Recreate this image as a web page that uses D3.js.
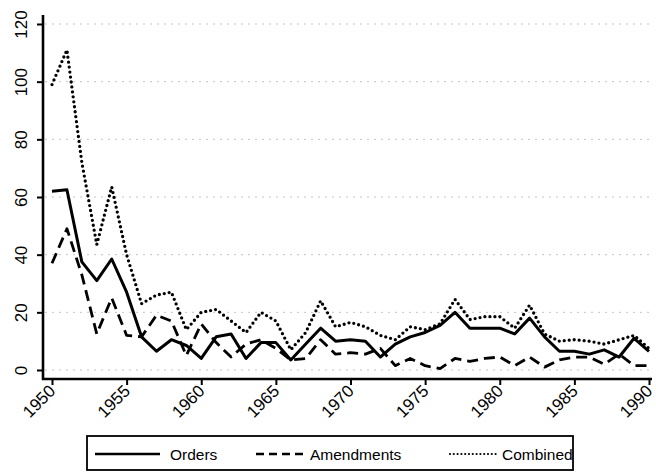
<!DOCTYPE html>
<html>
<head>
<meta charset="utf-8">
<script src="https://cdn.jsdelivr.net/npm/d3@7"></script>
<style>
  body { margin: 0; background: #fff; }
  svg { display: block; }
</style>
</head>
<body>
<div id="chart"></div>
<script>
const years = [1950, 1951, 1952, 1953, 1954, 1955, 1956, 1957, 1958, 1959,
  1960, 1961, 1962, 1963, 1964, 1965, 1966, 1967, 1968, 1969,
  1970, 1971, 1972, 1973, 1974, 1975, 1976, 1977, 1978, 1979,
  1980, 1981, 1982, 1983, 1984, 1985, 1986, 1987, 1988, 1989, 1990];

const orders = [62, 62.5, 37.5, 31, 38.5, 27, 11.5, 6.5, 10.5, 8.5,
  4, 11.5, 12.5, 4, 9.5, 9.5, 3.5, 9, 14.5, 10,
  10.5, 10, 4.5, 9, 11.5, 13, 15.5, 20, 14.5, 14.5,
  14.5, 12.5, 18, 11.5, 6.5, 6.5, 5.5, 7, 4.5, 11, 6.5];

const amendments = [37, 49, 33, 12.5, 25, 12, 11.5, 19, 17, 5,
  16, 9.5, 4.5, 9, 10.5, 7.5, 3.5, 4, 10.5, 5.5,
  6, 5.5, 7.5, 1.5, 4, 1.5, 0.5, 4, 3, 4,
  4.5, 1.5, 4.5, 1, 3.5, 4.5, 4.5, 2, 5.5, 1.5, 1.5];

const combined = [99, 111, 72, 43.5, 63.5, 40, 23, 26, 27, 14,
  20, 21, 17, 13, 20, 17, 7, 13, 24, 15,
  16.5, 15, 12, 10.5, 15, 14, 16, 24.5, 17.5, 18.5,
  18.5, 14.5, 22.5, 12.5, 10, 10.5, 10, 9, 10.5, 12, 7.5];

const seriesNames = ["Orders", "Amendments", "Combined"];
const yTicks = [0, 20, 40, 60, 80, 100, 120];
const xTicks = [1950, 1955, 1960, 1965, 1970, 1975, 1980, 1985, 1990];

const width = 656;
const height = 473;
const font = "'Liberation Sans', Arial, sans-serif";

// stroke patterns per series
const styles = [
  { dash: null, cap: "butt", w: 3 },
  { dash: "11,6", cap: "butt", w: 2.8 },
  { dash: "0,5", cap: "round", w: 3.3 },
];

const svg = d3.select("#chart").append("svg")
  .attr("width", width)
  .attr("height", height)
  .attr("viewBox", `0 0 ${width} ${height}`);

const x = d3.scaleLinear().domain([1950, 1990]).range([52, 649]);
const y = d3.scaleLinear().domain([0, 120]).range([370, 24]);

const axisX = 43;
const axisY = 379;
const plotRight = 652;

/** grid **/
svg.append("g")
  .selectAll("line")
  .data(yTicks)
  .join("line")
  .attr("x1", axisX + 2)
  .attr("x2", plotRight)
  .attr("y1", (d) => y(d))
  .attr("y2", (d) => y(d))
  .attr("stroke", "#c4c4c4")
  .attr("stroke-width", 1)
  .attr("stroke-dasharray", "2,5");

/** Y - axis **/
svg.append("g")
  .attr("transform", `translate(${axisX}, 0)`)
  .call(d3.axisLeft(y).tickValues(yTicks).tickSize(6).tickFormat(d3.format("d")))
  .call((g) => {
    g.select(".domain").remove();
    g.selectAll(".tick line").attr("stroke", "#000").attr("stroke-width", 2);
    g.selectAll(".tick text")
      .attr("x", null)
      .attr("dy", null)
      .attr("transform", "translate(-16, 0) rotate(-90)")
      .attr("text-anchor", "middle")
      .attr("fill", "#000")
      .attr("font-family", font)
      .attr("font-size", 17);
  });

svg.append("line")
  .attr("x1", axisX).attr("x2", axisX)
  .attr("y1", 15).attr("y2", axisY + 1)
  .attr("stroke", "#000")
  .attr("stroke-width", 2.6);

/** X - axis **/
svg.append("g")
  .attr("transform", `translate(0, ${axisY})`)
  .call(d3.axisBottom(x).tickValues(xTicks).tickSize(6).tickFormat(d3.format("d")))
  .call((g) => {
    g.select(".domain").remove();
    g.selectAll(".tick line").attr("stroke", "#000").attr("stroke-width", 2);
    g.selectAll(".tick text")
      .attr("y", null)
      .attr("dy", null)
      .attr("transform", "translate(4, 13) rotate(-45)")
      .attr("text-anchor", "end")
      .attr("fill", "#000")
      .attr("font-family", font)
      .attr("font-size", 17);
  });

svg.append("line")
  .attr("x1", axisX - 1).attr("x2", plotRight)
  .attr("y1", axisY).attr("y2", axisY)
  .attr("stroke", "#000")
  .attr("stroke-width", 2.6);

/** lines **/
const allSeries = [orders, amendments, combined];
const line = d3.line()
  .x((d, i) => x(years[i]))
  .y((d) => y(d));

const marks = svg.append("g");
allSeries.forEach((values, i) => {
  marks.append("path")
    .datum(values)
    .attr("d", line)
    .attr("fill", "none")
    .attr("stroke", "#000")
    .attr("stroke-width", styles[i].w)
    .attr("stroke-linejoin", "round")
    .attr("stroke-linecap", styles[i].cap)
    .attr("stroke-dasharray", styles[i].dash);
});

/** legend **/
const legend = svg.append("g");
legend.append("rect")
  .attr("x", 87)
  .attr("y", 436)
  .attr("width", 486)
  .attr("height", 34)
  .attr("fill", "#fff")
  .attr("stroke", "#000")
  .attr("stroke-width", 1.8);

const legendItems = [
  { x1: 95, x2: 160, tx: 170 },
  { x1: 256, x2: 305, tx: 310 },
  { x1: 450, x2: 498, tx: 502 },
];

legendItems.forEach((item, i) => {
  legend.append("line")
    .attr("x1", item.x1).attr("x2", item.x2)
    .attr("y1", 454).attr("y2", 454)
    .attr("stroke", "#000")
    .attr("stroke-width", i === 2 ? 2.2 : 2.4)
    .attr("stroke-linecap", styles[i].cap)
    .attr("stroke-dasharray", i === 1 ? "8,5" : i === 2 ? "0,3.8" : null);
  legend.append("text")
    .attr("x", item.tx)
    .attr("y", 459.5)
    .attr("font-family", font)
    .attr("font-size", 15.5)
    .attr("fill", "#000")
    .text(seriesNames[i]);
});
</script>
</body>
</html>
